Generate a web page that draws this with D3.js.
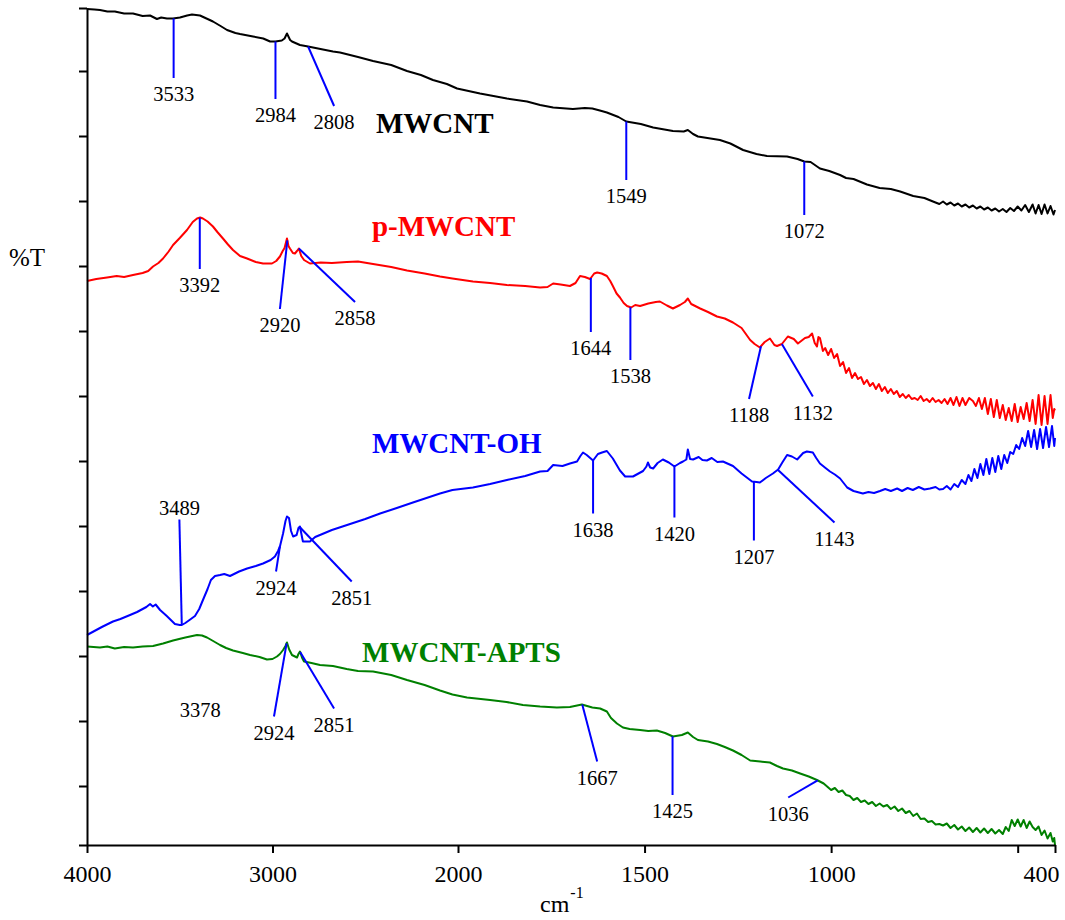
<!DOCTYPE html>
<html>
<head>
<meta charset="utf-8">
<script src="https://cdn.jsdelivr.net/npm/d3@7"></script>
<style>
  html, body { margin: 0; padding: 0; background: #ffffff; }
  svg { display: block; }
  svg text { font-family: "Liberation Serif", "Times New Roman", Times, serif; }
</style>
</head>
<body>
<svg id="chart" width="1065" height="920"></svg>
<script>
// FTIR spectra, wavenumber (cm-1) vs. transmittance (offset, arbitrary %T units)

const mwcnt = [
  [4000,168.4],[3960,168.3],[3930,168.2],[3890,167.9],[3850,167.9],[3800,167.5],[3752,167.5],[3700,167.0],
  [3660,167.1],[3623,166.4],[3600,166.7],[3569,166.5],[3536,166.5],[3499,166.7],[3460,167.1],[3434,167.3],
  [3391,167.1],[3350,166.4],[3321,165.9],[3280,165.0],[3245,164.2],[3200,163.6],[3175,163.4],[3105,162.9],
  [3050,162.5],[3013,161.9],[2984,161.9],[2950,162.1],[2935,162.5],[2922,163.5],[2905,162.2],[2895,161.9],
  [2852,161.2],[2808,160.9],[2728,160.3],[2674,159.9],[2636,159.7],[2539,158.8],[2458,158.0],[2360,157.2],
  [2275,156.0],[2200,155.2],[2135,154.2],[2060,153.4],[2005,152.5],[1941,151.5],[1869,150.5],[1815,149.9],
  [1780,149.2],[1745,148.7],[1692,148.4],[1660,148.6],[1640,148.5],[1615,148.0],[1601,147.7],[1570,146.8],
  [1549,145.9],[1510,145.4],[1477,144.7],[1424,144.0],[1395,143.9],[1384,144.2],[1370,143.4],[1357,142.9],
  [1298,142.2],[1270,141.5],[1236,140.2],[1200,139.4],[1172,139.0],[1118,138.9],[1090,138.4],[1072,137.9],
  [1055,137.8],[1030,136.5],[1005,136.0],[976,135.2],[960,134.6],[940,134.4],[904,133.3],[870,132.6],
  [840,132.4],[815,131.9],[780,131.0],[750,130.6],[727,129.9],[710,129.4],[700,129.9],[690,129.3],
  [680,129.7],[670,129.1],[660,129.5],[650,128.9],[640,129.3],[630,128.7],[620,129.1],[610,128.5],
  [600,128.9],[590,128.3],[580,128.7],[570,128.1],[560,128.5],[550,127.9],[540,128.4],[530,127.8],
  [520,128.6],[510,128.0],[500,128.9],[490,128.1],[480,129.2],[470,127.8],[460,129.3],[452,127.5],
  [444,129.2],[436,127.4],[428,129.3],[420,127.5],[412,129.0],[404,127.3],[400,128.2]
];

const pMwcnt = [
  [4000,114.0],[3950,114.4],[3892,114.7],[3840,115.0],[3800,114.8],[3752,115.2],[3700,115.6],[3670,116.0],
  [3644,116.9],[3615,117.6],[3590,118.5],[3560,119.9],[3536,121.2],[3500,122.6],[3461,124.2],[3430,125.8],
  [3407,126.5],[3390,126.7],[3375,126.5],[3350,125.9],[3321,124.9],[3295,123.7],[3267,122.5],[3240,121.3],
  [3213,120.2],[3175,119.0],[3137,118.5],[3090,117.8],[3051,117.5],[3003,117.5],[2980,118.0],[2960,118.9],
  [2945,120.0],[2935,120.6],[2922,122.5],[2914,121.0],[2906,120.5],[2890,119.6],[2879,119.5],[2868,120.0],
  [2858,120.5],[2845,119.0],[2830,118.2],[2798,117.5],[2740,117.7],[2680,117.6],[2600,117.8],[2539,117.9],
  [2458,117.4],[2360,116.8],[2275,116.1],[2180,115.5],[2097,114.9],[2030,114.5],[1960,113.9],[1914,113.6],
  [1869,113.2],[1820,113.0],[1780,112.7],[1760,112.8],[1745,113.5],[1725,113.3],[1700,113.0],[1685,113.6],
  [1673,115.0],[1660,114.8],[1646,114.4],[1635,115.5],[1627,115.7],[1615,115.5],[1601,115.0],[1592,114.0],
  [1585,113.0],[1575,111.5],[1566,110.7],[1556,109.6],[1547,109.0],[1536,108.7],[1525,109.2],[1512,109.0],
  [1490,109.5],[1470,109.8],[1459,109.9],[1440,109.1],[1424,108.5],[1405,109.2],[1392,109.8],[1384,110.5],
  [1375,109.4],[1351,108.5],[1330,107.8],[1306,106.9],[1285,106.5],[1263,105.7],[1240,104.6],[1217,102.2],
  [1205,101.4],[1191,100.7],[1178,101.8],[1164,102.5],[1152,101.2],[1145,101.0],[1132,101.4],[1116,102.9],
  [1100,102.4],[1089,101.5],[1070,102.6],[1060,102.8],[1051,103.5],[1044,101.6],[1038,100.9],[1034,102.8],
  [1030,102.6],[1022,100.0],[1016,100.6],[1008,99.2],[1000,100.4],[992,98.6],[984,99.4],[976,97.0],
  [968,97.8],[960,95.6],[952,96.6],[944,94.6],[936,95.6],[928,94.4],[920,94.8],[912,93.4],
  [904,94.2],[896,93.0],[888,93.6],[880,92.4],[872,93.4],[864,92.0],[856,92.8],[848,91.6],
  [840,92.4],[832,91.4],[824,92.0],[816,90.8],[808,91.4],[800,90.6],[792,91.2],[784,90.4],
  [776,90.6],[768,90.2],[760,91.0],[752,90.0],[744,90.4],[736,89.8],[728,90.6],[720,89.8],
  [712,90.2],[704,89.6],[696,90.4],[688,89.4],[680,90.6],[672,89.2],[664,90.8],[656,89.0],
  [648,90.6],[640,89.2],[630,90.6],[620,90.0],[612,89.0],[604,90.6],[596,88.4],[588,90.6],
  [580,87.4],[572,90.4],[564,86.8],[556,90.2],[548,86.6],[540,89.2],[532,86.2],[524,88.6],
  [516,86.0],[508,89.4],[500,85.8],[492,88.8],[484,86.4],[476,89.6],[468,86.0],[460,90.2],
  [452,85.4],[444,91.2],[436,85.2],[428,91.0],[420,85.4],[412,91.2],[406,86.6],[402,88.4],[400,88.1]
];

const mwcntOh = [
  [4000,43.2],[3960,44.0],[3920,44.8],[3860,45.9],[3820,46.4],[3768,47.2],[3730,47.8],[3700,48.4],
  [3680,48.8],[3660,49.4],[3645,48.9],[3630,49.3],[3606,48.2],[3570,47.0],[3526,45.4],[3500,45.2],
  [3489,45.2],[3470,45.6],[3440,46.4],[3418,47.0],[3395,48.4],[3375,50.2],[3350,52.4],[3332,54.2],
  [3310,55.0],[3283,55.2],[3260,55.4],[3229,55.0],[3180,55.9],[3137,56.5],[3090,57.0],[3051,57.5],
  [3010,58.2],[2987,58.9],[2970,60.0],[2960,60.9],[2943,63.5],[2930,66.0],[2922,66.9],[2911,66.6],
  [2900,64.0],[2889,62.9],[2870,63.2],[2860,64.6],[2852,64.9],[2840,62.6],[2836,61.9],[2798,61.9],
  [2770,62.8],[2744,63.2],[2680,64.2],[2598,65.2],[2500,66.4],[2420,67.5],[2330,68.6],[2243,69.7],
  [2170,70.6],[2097,71.5],[2030,72.2],[1960,72.7],[1914,73.4],[1869,74.2],[1820,75.0],[1780,75.9],
  [1760,76.0],[1745,77.2],[1720,77.0],[1700,77.5],[1681,77.9],[1672,79.0],[1665,79.7],[1655,79.2],
  [1638,78.1],[1625,79.4],[1614,79.7],[1601,80.0],[1585,78.5],[1566,76.1],[1552,74.9],[1531,74.9],
  [1504,76.0],[1495,76.9],[1491,77.7],[1485,76.7],[1477,76.5],[1465,77.6],[1451,78.3],[1435,77.7],
  [1420,76.9],[1405,77.6],[1397,77.9],[1388,78.3],[1384,80.3],[1378,78.4],[1370,78.3],[1355,78.8],
  [1345,78.2],[1333,78.1],[1320,78.6],[1305,77.8],[1290,77.9],[1263,77.0],[1240,75.5],[1212,73.9],
  [1200,73.8],[1191,73.7],[1175,74.6],[1156,75.5],[1142,76.3],[1130,77.8],[1118,79.2],[1105,78.9],
  [1091,78.3],[1075,79.6],[1065,79.9],[1049,79.7],[1040,78.6],[1030,77.5],[1015,76.6],[1003,75.9],
  [990,75.3],[976,74.5],[957,72.7],[940,72.0],[915,71.5],[900,71.8],[885,71.6],[869,72.0],
  [855,72.4],[840,72.0],[823,72.5],[810,72.0],[795,72.6],[781,72.2],[765,72.8],[750,72.3],
  [735,72.5],[720,72.8],[710,72.3],[700,72.4],[690,73.0],[680,72.3],[670,73.4],[660,72.8],
  [650,74.2],[640,73.4],[632,75.2],[624,74.0],[616,76.4],[608,74.6],[600,77.4],[592,75.2],
  [584,78.4],[576,75.4],[568,78.6],[560,75.8],[552,79.0],[544,76.4],[536,79.2],[528,77.6],
  [520,79.8],[512,79.4],[504,81.2],[496,80.4],[488,82.6],[480,81.0],[472,84.0],[464,80.8],
  [456,84.2],[448,80.4],[440,84.4],[432,80.6],[424,84.8],[416,80.8],[408,85.0],[402,81.0],[400,82.6]
];

const mwcntApts = [
  [4000,40.9],[3930,40.7],[3890,40.9],[3850,40.5],[3800,40.8],[3752,40.7],[3700,40.9],[3644,41.0],
  [3590,41.5],[3536,42.1],[3470,42.7],[3407,43.2],[3380,43.1],[3353,42.7],[3320,42.0],[3283,41.2],
  [3250,40.6],[3213,40.1],[3160,39.6],[3121,39.2],[3070,38.8],[3030,38.3],[3000,38.4],[2976,38.9],
  [2960,39.4],[2943,40.2],[2930,41.0],[2922,41.7],[2910,40.3],[2895,39.2],[2868,38.7],[2860,39.4],
  [2852,39.9],[2840,38.6],[2830,37.9],[2790,37.6],[2744,37.2],[2674,37.0],[2600,36.4],[2539,36.0],
  [2458,35.9],[2360,35.2],[2275,34.2],[2180,33.2],[2097,32.1],[2030,31.3],[1976,30.7],[1914,30.2],
  [1870,29.8],[1826,29.2],[1780,28.9],[1735,28.7],[1700,28.8],[1668,29.3],[1640,28.7],[1619,28.5],
  [1601,27.9],[1590,26.6],[1574,25.5],[1558,24.7],[1540,24.4],[1512,24.2],[1490,24.0],[1467,24.1],
  [1445,23.6],[1424,22.9],[1400,23.2],[1384,23.7],[1370,22.8],[1357,22.2],[1330,21.9],[1306,21.4],
  [1285,20.8],[1263,20.1],[1240,19.2],[1217,18.1],[1190,17.9],[1164,17.7],[1145,17.0],[1129,16.5],
  [1105,16.1],[1083,15.5],[1060,14.9],[1038,14.2],[1020,13.5],[1000,12.2],[990,12.6],[980,11.8],
  [970,12.1],[960,11.2],[950,11.0],[940,10.2],[930,10.6],[920,9.8],[910,10.1],[900,9.4],
  [890,9.8],[880,9.0],[870,9.5],[860,8.9],[850,9.2],[840,8.4],[830,8.9],[820,8.0],
  [810,8.5],[800,7.6],[790,8.0],[780,7.0],[770,7.5],[760,6.4],[750,6.5],[740,5.8],
  [730,6.0],[720,5.3],[710,5.4],[700,5.1],[690,5.5],[680,4.6],[670,5.2],[660,4.3],
  [650,4.9],[640,4.0],[630,4.7],[620,3.8],[610,4.6],[600,3.7],[590,4.5],[580,3.6],
  [570,4.4],[560,3.5],[550,4.2],[540,3.4],[532,4.8],[524,4.0],[516,6.2],[508,5.0],
  [500,6.3],[492,4.9],[484,6.2],[476,4.6],[468,5.9],[460,4.8],[452,4.2],[444,4.9],
  [436,3.2],[428,4.1],[420,2.5],[412,3.6],[406,1.9],[402,2.6],[400,1.2]
];

// axis ticks
const xTickValues = [4000, 3000, 2000, 1500, 1000, 500, 400];
const xTickLabels = ["4000", "3000", "2000", "1500", "1000", "", "400"];
const yTickValues = [1.2, 13, 26, 39, 52, 65, 78, 91, 104, 117, 130, 143, 156, 168.6];

// series names
const seriesNames = ["MWCNT", "p-MWCNT", "MWCNT-OH", "MWCNT-APTS"];

// peak annotations: series index, label, wavenumber on the curve, leader line end (wavenumber, %T)
const peakSeries = [0, 0, 0, 0, 0,
                    1, 1, 1, 1, 1, 1, 1,
                    2, 2, 2, 2, 2, 2, 2,
                    3, 3, 3, 3, 3, 3];
const peakLabels = ["3533", "2984", "2808", "1549", "1072",
                    "3392", "2920", "2858", "1644", "1538", "1188", "1132",
                    "3489", "2924", "2851", "1638", "1420", "1207", "1143",
                    "3378", "2924", "2851", "1667", "1425", "1036"];
const peakAnchorWn = [3533, 2984, 2808, 1549, 1072,
                      3392, 2920, 2858, 1644, 1538, 1188, 1132,
                      3489, 2960, 2851, 1638, 1420, 1207, 1143,
                      null, 2924, 2851, 1667, 1425, 1036];
const peakEndWn = [3533, 2984, 2668, 1549, 1072,
                   3392, 2960, 2555, 1644, 1538, 1220, 1049,
                   3502, 2981, 2573, 1638, 1420, 1207, 991,
                   3390, 2992, 2668, 1627, 1425, 1115];
const peakEndT = [154.6, 150.4, 149.0, 134.2, 127.2,
                  116.4, 108.4, 109.8, 103.8, 98.2, 90.4, 90.9,
                  66.3, 55.9, 53.9, 67.5, 66.7, 62.1, 65.7,
                  31.4, 26.9, 28.5, 17.9, 11.2, 10.7];

// ---------------------------------------------------------------------------
const SERIF = '"Liberation Serif", "Times New Roman", Times, serif';
const seriesData = [mwcnt, pMwcnt, mwcntOh, mwcntApts];
const seriesColors = ["#000000", "#ff0000", "#0000ff", "#008000"];
// where each series name sits (wavenumber, %T of the text baseline start)
const nameAnchors = [[2442, 143.6], [2464, 123.0], [2464, 79.6], [2517, 37.8]];

const svg = d3.select("#chart");

// wavenumber axis is compressed 2:1 above 2000 cm-1
const x = d3.scaleLinear().domain([4000, 2000, 400]).range([87, 458, 1055]);
const y = d3.scaleLinear().domain([1.2, 168.6]).range([845, 8]);

const line = d3.line()
  .x(d => x(d[0]))
  .y(d => y(d[1]))
  .curve(d3.curveLinear);

function valueAt(data, wn) {
  for (let i = 0; i < data.length - 1; i++) {
    const a = data[i], b = data[i + 1];
    if ((a[0] - wn) * (b[0] - wn) <= 0) {
      const span = b[0] - a[0];
      const t = span === 0 ? 0 : (wn - a[0]) / span;
      return a[1] + t * (b[1] - a[1]);
    }
  }
  return data[data.length - 1][1];
}

// spectra
svg.append("g").attr("class", "spectra")
  .selectAll("path")
  .data(seriesData)
  .join("path")
  .attr("d", d => line(d))
  .attr("fill", "none")
  .attr("stroke", (d, i) => seriesColors[i])
  .attr("stroke-width", 2)
  .attr("stroke-linejoin", "round");

// axes
const xAxis = d3.axisBottom(x)
  .tickValues(xTickValues)
  .tickFormat((d, i) => xTickLabels[i])
  .tickSize(8)
  .tickSizeOuter(0)
  .tickPadding(12);

const gx = svg.append("g")
  .attr("transform", `translate(0,${y(1.2)})`)
  .call(xAxis)
  .attr("font-family", SERIF)
  .attr("font-size", 24);
gx.select(".domain").attr("stroke", "#000").attr("stroke-width", 2);
gx.selectAll(".tick line").attr("stroke", "#000").attr("stroke-width", 2);
gx.selectAll(".tick text")
  .attr("fill", "#000")
  .attr("font-family", SERIF)
  .style("font-family", SERIF)
  .style("font-size", "24px");
gx.selectAll(".tick text").filter(d => d === 400).attr("dx", "-14");

const yAxis = d3.axisLeft(y)
  .tickValues(yTickValues)
  .tickFormat("")
  .tickSize(8)
  .tickSizeOuter(0);

const gy = svg.append("g")
  .attr("transform", `translate(${x(4000)},0)`)
  .call(yAxis);
gy.select(".domain").attr("stroke", "#000").attr("stroke-width", 2);
gy.selectAll(".tick line").attr("stroke", "#000").attr("stroke-width", 2);

// axis titles
svg.append("text")
  .attr("x", 9)
  .attr("y", 266)
  .attr("fill", "#000")
  .attr("font-family", SERIF)
  .style("font-size", "25px")
  .text("%T");

const xTitle = svg.append("text")
  .attr("x", 540)
  .attr("y", 912)
  .attr("fill", "#000")
  .attr("font-family", SERIF)
  .style("font-size", "24px");
xTitle.append("tspan").text("cm");
xTitle.append("tspan")
  .attr("dy", -14)
  .attr("dx", 1)
  .style("font-size", "16px")
  .text("-1");

// series names
svg.append("g").attr("class", "names")
  .selectAll("text")
  .data(seriesNames)
  .join("text")
  .attr("x", (d, i) => x(nameAnchors[i][0]))
  .attr("y", (d, i) => y(nameAnchors[i][1]))
  .attr("fill", (d, i) => seriesColors[i])
  .attr("font-family", SERIF)
  .style("font-size", "29px")
  .style("font-weight", "bold")
  .text(d => d);

// peak leader lines and labels
const peaks = peakLabels.map((label, i) => ({
  label,
  series: peakSeries[i],
  anchorWn: peakAnchorWn[i],
  endWn: peakEndWn[i],
  endT: peakEndT[i]
}));

const gPeaks = svg.append("g").attr("class", "peaks");

gPeaks.selectAll("line")
  .data(peaks.filter(p => p.anchorWn !== null))
  .join("line")
  .attr("x1", p => x(p.anchorWn))
  .attr("y1", p => y(valueAt(seriesData[p.series], p.anchorWn)))
  .attr("x2", p => x(p.endWn))
  .attr("y2", p => y(p.endT))
  .attr("stroke", "#0000ff")
  .attr("stroke-width", 2);

gPeaks.selectAll("text")
  .data(peaks)
  .join("text")
  .attr("x", p => x(p.endWn))
  .attr("y", p => {
    const above = p.anchorWn !== null &&
      p.endT > valueAt(seriesData[p.series], p.anchorWn);
    return above ? y(p.endT) - 5 : y(p.endT) + 23;
  })
  .attr("text-anchor", "middle")
  .attr("fill", "#000")
  .attr("font-family", SERIF)
  .style("font-size", "20.5px")
  .text(p => p.label);
</script>
</body>
</html>
